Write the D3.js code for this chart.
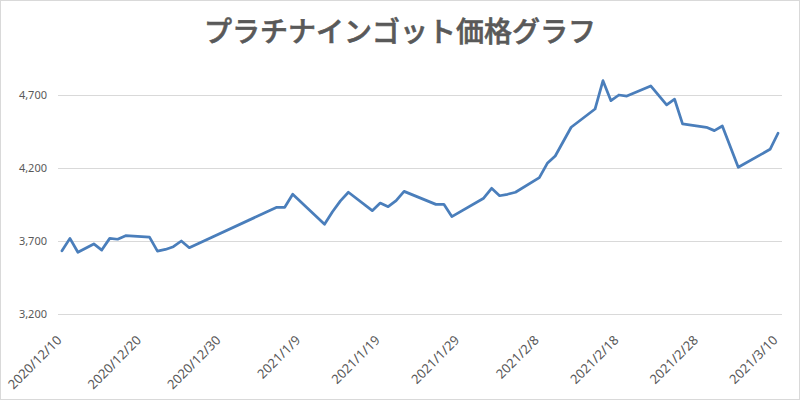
<!DOCTYPE html>
<html>
<head>
<meta charset="utf-8">
<script src="https://cdn.jsdelivr.net/npm/d3@7"></script>
<style>
  body { margin: 0; background: #fff; }
  svg { display: block; }
</style>
</head>
<body>
<div id="chart"></div>
<script>
// data
const dates = [
  "2020/12/10", "2020/12/11", "2020/12/12", "2020/12/14", "2020/12/15", "2020/12/16", "2020/12/17",
  "2020/12/18", "2020/12/19", "2020/12/21", "2020/12/22", "2020/12/23", "2020/12/24", "2020/12/25",
  "2020/12/26", "2021/1/6", "2021/1/7", "2021/1/8", "2021/1/12", "2021/1/13", "2021/1/14",
  "2021/1/15", "2021/1/18", "2021/1/19", "2021/1/20", "2021/1/21", "2021/1/22", "2021/1/26",
  "2021/1/27", "2021/1/28", "2021/2/1", "2021/2/2", "2021/2/3", "2021/2/4", "2021/2/5",
  "2021/2/8", "2021/2/9", "2021/2/10", "2021/2/12", "2021/2/15", "2021/2/16", "2021/2/17",
  "2021/2/18", "2021/2/19", "2021/2/22", "2021/2/24", "2021/2/25", "2021/2/26", "2021/3/1",
  "2021/3/2", "2021/3/3", "2021/3/5", "2021/3/9", "2021/3/10"
];
const prices = [
  3633, 3718, 3623, 3680, 3638, 3718, 3712,
  3736, 3733, 3727, 3631, 3642, 3661, 3700,
  3654, 3931, 3931, 4020, 3814, 3900, 3975,
  4034, 3908, 3960, 3935, 3976, 4040, 3951,
  3951, 3867, 3993, 4061, 4010, 4020, 4034,
  4134, 4232, 4282, 4479, 4604, 4798, 4661,
  4700, 4693, 4762, 4632, 4671, 4502, 4479,
  4456, 4488, 4205, 4328, 4438
];
const tickDates = [
  "2020/12/10", "2020/12/20", "2020/12/30", "2021/1/9", "2021/1/19",
  "2021/1/29", "2021/2/8", "2021/2/18", "2021/2/28", "2021/3/10"
];
const yTicks = [3200, 3700, 4200, 4700];
const title = "プラチナインゴット価格グラフ";

const width = 800, height = 400;
const plot = { left: 58, right: 782, top: 58.5, bottom: 314 };
const parse = d3.timeParse("%Y/%m/%d");
const fmtLabel = d => d.getFullYear() + "/" + (d.getMonth() + 1) + "/" + d.getDate();
const DAY = 864e5;

const series = dates.map((d, i) => ({ date: parse(d), price: prices[i] }));

const svg = d3.select("#chart").append("svg")
  .attr("width", width)
  .attr("height", height);

svg.append("rect")
  .attr("x", 0.5).attr("y", 0.5)
  .attr("width", width - 1).attr("height", height - 1)
  .attr("fill", "#fff")
  .attr("stroke", "#d9d9d9");

// date axis: every day is one slot, points sit in the middle of it
const first = parse(dates[0]), last = parse(dates[dates.length - 1]);
const x = d3.scaleTime()
  .domain([new Date(+first - DAY / 2), new Date(+last + DAY / 2)])
  .range([plot.left, plot.right]);

const y = d3.scaleLinear()
  .domain([3200, 4950])
  .range([plot.bottom, plot.top]);

// gridlines + y labels
const yAxis = svg.append("g")
  .attr("class", "y axis")
  .attr("transform", `translate(${plot.left}, 0)`)
  .call(d3.axisLeft(y)
    .tickValues(yTicks)
    .tickSize(-(plot.right - plot.left))
    .tickPadding(11)
    .tickFormat(d3.format(",")));
yAxis.select(".domain").remove();
yAxis.selectAll(".tick line").attr("stroke", "#d9d9d9");
yAxis.selectAll(".tick text")
  .attr("fill", "#595959")
  .style("font-family", "'Noto Sans', sans-serif")
  .style("font-size", "11px");

// x labels, rotated
const xAxis = svg.append("g")
  .attr("class", "x axis")
  .attr("transform", `translate(0, ${plot.bottom})`)
  .call(d3.axisBottom(x)
    .tickValues(tickDates.map(parse))
    .tickSize(0)
    .tickFormat(fmtLabel));
xAxis.select(".domain").remove();
xAxis.selectAll(".tick text")
  .attr("fill", "#595959")
  .attr("text-anchor", "end")
  .attr("dy", null)
  .attr("y", 0)
  .attr("transform", "translate(0, 27) rotate(-45)")
  .style("font-family", "'Noto Sans', sans-serif")
  .style("font-size", "13px");

// the price line
const line = d3.line()
  .x(d => x(d.date))
  .y(d => y(d.price));

svg.append("path")
  .datum(series)
  .attr("fill", "none")
  .attr("stroke", "#4a7ebb")
  .attr("stroke-width", 2.75)
  .attr("stroke-linejoin", "round")
  .attr("stroke-linecap", "round")
  .attr("d", line);

svg.append("text")
  .attr("x", 400)
  .attr("y", 42)
  .attr("text-anchor", "middle")
  .attr("fill", "#595959")
  .attr("stroke", "#595959")
  .attr("stroke-width", 0.6)
  .style("font-family", "'Noto Sans CJK JP', sans-serif")
  .style("font-weight", "500")
  .style("font-size", "28px")
  .text(title);
</script>
</body>
</html>
